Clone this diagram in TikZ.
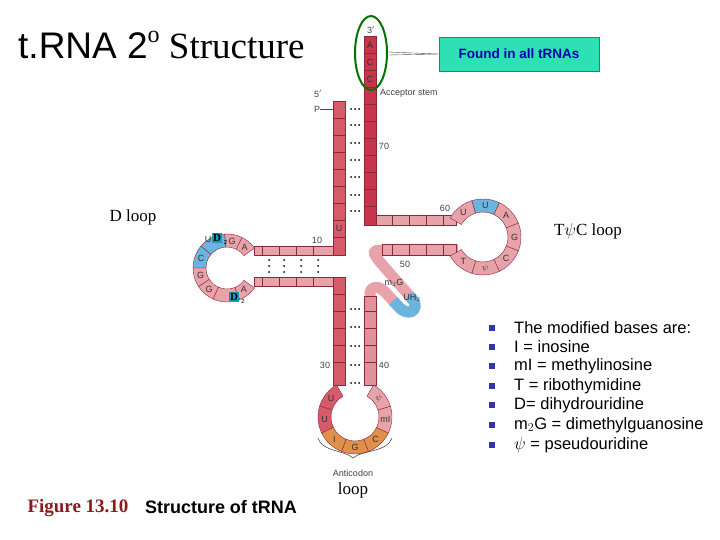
\documentclass[tikz,border=0pt]{standalone}
\usepackage{fontspec}
\setmainfont{Liberation Serif}
\setsansfont{Liberation Sans}
\usetikzlibrary{calc}
\definecolor{segline}{HTML}{8A2A38}
\definecolor{dred}{HTML}{C8344A}
\definecolor{mred}{HTML}{D65A6A}
\definecolor{lred}{HTML}{E8A2AA}
\definecolor{lblue}{HTML}{6CB4E0}
\definecolor{orng}{HTML}{E0904A}
\definecolor{tealsq}{HTML}{1A9BB8}
\definecolor{callout}{HTML}{2EE0B4}
\definecolor{bullet}{HTML}{3333AA}
\definecolor{figred}{HTML}{8B1A1A}
\newcommand\rnaseg[6]{%
 \filldraw[fill=#5,draw=segline,line width=0.4pt] ($(#1,#2)+(#3:\Ro pt)$) arc[start angle=#3,end angle=#4,radius=\Ro pt] -- ($(#1,#2)+(#4:\Ri pt)$) arc[start angle=#4,end angle=#3,radius=\Ri pt] -- cycle;
 \node[seglab] at ($(#1,#2)+({(#3+#4)/2}:{(\Ro+\Ri)/2*1pt})$) {#6};}
\newcommand\bpair[2]{\foreach \dd in {-4,0,4}{\fill (#1+\dd,#2) circle (1pt);}}
\begin{document}
\begin{tikzpicture}[x=1pt,y=-1pt,
 seglab/.style={font=\sffamily\fontsize{9}{9}\selectfont,text=black!80,inner sep=0pt},
 numlab/.style={font=\sffamily\fontsize{9}{9}\selectfont,text=black!75,inner sep=0pt},
 strand/.style={draw=segline,line width=0.4pt},
 item/.style={font=\sffamily\fontsize{16.5}{16.5}\selectfont,anchor=west,inner sep=0pt}]
\useasboundingbox (0,0) rectangle (720,540);
% title
\node[anchor=west,inner sep=0pt] (title) at (18,45) {\sffamily\fontsize{37}{37}\selectfont t.RNA 2\raisebox{0.45em}{\rmfamily\fontsize{24}{24}\selectfont o}\rmfamily\ Structure};
% hairpin connector
\draw[lred,line width=11pt,line join=round] (370,300) -- (370,293) .. controls (371,286) and (378,285) .. (385,292) -- (398,306) .. controls (408,318) and (420,310) .. (413,300) -- (380,262) .. controls (372,252) and (372,250) .. (382,250) -- (458,250);
\draw[lblue,line width=11pt] (393,301) -- (398,306) .. controls (408,318) and (420,310) .. (413,300) -- (409,295);
% acceptor right strand
\filldraw[strand,fill=dred] (364,36) rectangle (376,225);
\foreach \y in {53,70,87,104,121,138,155,172,189,206} \draw[segline,line width=0.4pt] (364,\y) -- (376,\y);
\foreach \t/\y in {A/45,C/62,C/79} \node[seglab] at (370,\y) {\t};
% T arm strands
\filldraw[strand,fill=lred] (376,215) rectangle (456,225);
\foreach \x in {392,409,426,443} \draw[segline,line width=0.4pt] (\x,215) -- (\x,225);
\filldraw[strand,fill=lred] (382,244) rectangle (456,255);
\foreach \x in {392,409,426,443} \draw[segline,line width=0.4pt] (\x,244) -- (\x,255);
% left (5') strand
\filldraw[strand,fill=mred] (333,101) rectangle (345,255);
\foreach \y in {118,135,152,169,186,203,220,237} \draw[segline,line width=0.4pt] (333,\y) -- (345,\y);
\node[seglab] at (339,228) {U};
% D arm strands
\filldraw[strand,fill=lred] (254,246) rectangle (333,255);
\foreach \x in {262,279,296,313} \draw[segline,line width=0.4pt] (\x,246) -- (\x,255);
\filldraw[strand,fill=lred] (254,277) rectangle (333,286);
\foreach \x in {262,279,296,313} \draw[segline,line width=0.4pt] (\x,277) -- (\x,286);
% anticodon strands
\filldraw[strand,fill=mred] (333,277) rectangle (345,385);
\foreach \y in {294,311,328,345,362} \draw[segline,line width=0.4pt] (333,\y) -- (345,\y);
\filldraw[strand,fill=lred!85!dred] (364,296) rectangle (376,385);
\foreach \y in {311,328,345,362} \draw[segline,line width=0.4pt] (364,\y) -- (376,\y);
% D loop
\def\Ro{34}\def\Ri{21}
\rnaseg{227}{268}{36}{64}{lred}{A}
\rnaseg{227}{268}{64}{94}{lred}{G}
\rnaseg{227}{268}{94}{140}{lblue}{}
\rnaseg{227}{268}{140}{180}{lblue}{C}
\rnaseg{227}{268}{180}{213}{lred}{G}
\rnaseg{227}{268}{213}{246}{lred}{G}
\rnaseg{227}{268}{246}{292}{lred}{}
\rnaseg{227}{268}{292}{324}{lred}{A}
\node[fill=tealsq,inner sep=1pt,font=\bfseries\fontsize{11}{11}\selectfont] (d1) at (217,238) {D};
\node[font=\sffamily\fontsize{6}{6}\selectfont,inner sep=0pt] at (225.5,242) {2};
\node[seglab] at (208,239) {U};
\node[fill=tealsq,inner sep=1pt,font=\bfseries\fontsize{11}{11}\selectfont] (d2) at (234,297) {D};
\node[font=\sffamily\fontsize{6}{6}\selectfont,inner sep=0pt] at (243,301) {2};
% T loop
\def\Ro{38}\def\Ri{25}
\rnaseg{483}{237}{107.1}{150}{lred}{U}
\rnaseg{483}{237}{64.3}{107.1}{lblue}{U}
\rnaseg{483}{237}{21.4}{64.3}{lred}{A}
\rnaseg{483}{237}{-21.4}{21.4}{lred}{G}
\rnaseg{483}{237}{-64.3}{-21.4}{lred}{C}
\rnaseg{483}{237}{-107.1}{-64.3}{lred}{$\psi$}
\rnaseg{483}{237}{-150}{-107.1}{lred}{T}
% anticodon loop
\def\Ro{37}\def\Ri{24}
\rnaseg{355}{417}{120}{162.9}{mred}{U}
\rnaseg{355}{417}{162.9}{205.7}{mred}{U}
\rnaseg{355}{417}{205.7}{248.6}{orng}{I}
\rnaseg{355}{417}{248.6}{291.4}{orng}{G}
\rnaseg{355}{417}{291.4}{334.3}{orng}{C}
\rnaseg{355}{417}{334.3}{377.1}{lred}{mI}
\rnaseg{355}{417}{377.1}{420}{lred}{$\psi$}
% brace
\draw[black!70,line width=0.6pt] (318,438) .. controls (322,452) and (345,450) .. (353,458) .. controls (362,450) and (388,452) .. (392,438);
% base pairs
\foreach \y in {109,125,143,160,177,195,211} {\bpair{355}{\y}}
\foreach \y in {309,327,346,365,383} {\bpair{355}{\y}}
\foreach \x in {269,284,301,318} {\foreach \y in {260,266,272} \fill (\x,\y) circle (1pt);}
% numbers
\node[numlab] at (318,94) {5$'$};
\node[numlab] at (371,30) {3$'$};
\node[numlab] (p) at (317,109) {P};
\draw[black!70] (p.east) -- (333,109);
\node[numlab,anchor=west] at (380,93) {Acceptor stem};
\node[numlab] at (384,146) {70};
\node[numlab] at (445,208) {60};
\node[numlab] at (405,264) {50};
\node[numlab] at (317,240) {10};
\node[numlab] at (325,365) {30};
\node[numlab] at (384,365) {40};
\node[seglab] at (394,283) {m$_2$G};
\node[seglab] at (412,298) {UH$_2$};
\node[numlab] at (353,473) {Anticodon};
% callout
\draw[green!45!black,line width=2pt] (371,53) ellipse (16 and 37);
\node[fill=callout,draw=black!60,minimum width=160,minimum height=34,inner sep=0pt,font=\sffamily\bfseries\fontsize{13.5}{13.5}\selectfont,text=blue!70!black] (box) at (519,54) {Found in all tRNAs};
\draw[black!70] (388,52) -- (box.west) -- (388,55);
% loop labels
\node[font=\fontsize{17}{17}\selectfont,inner sep=0pt] at (133,217) {D loop};
\node[font=\fontsize{17}{17}\selectfont,inner sep=0pt] at (588,231) {T$\psi$C loop};
\node[font=\fontsize{17}{17}\selectfont,inner sep=0pt] at (353,490) {loop};
\node[font=\bfseries\fontsize{19}{19}\selectfont,text=figred,inner sep=0pt] at (78,508) {Figure 13.10};
\node[font=\sffamily\bfseries\fontsize{18}{18}\selectfont,inner sep=0pt] at (221,507) {Structure of tRNA};
% list
\foreach \y/\t in {328/{The modified bases are:},347/{I = inosine},366/{mI = methylinosine},386/{T = ribothymidine},405/{D= dihydrouridine},425/{m$_2$G = dimethylguanosine},445/{$\psi$ = pseudouridine}} {
 \fill[bullet] (489,\y-3) rectangle (495,\y+3);
 \node[item] at (514,\y) {\t};}
\end{tikzpicture}
\end{document}
